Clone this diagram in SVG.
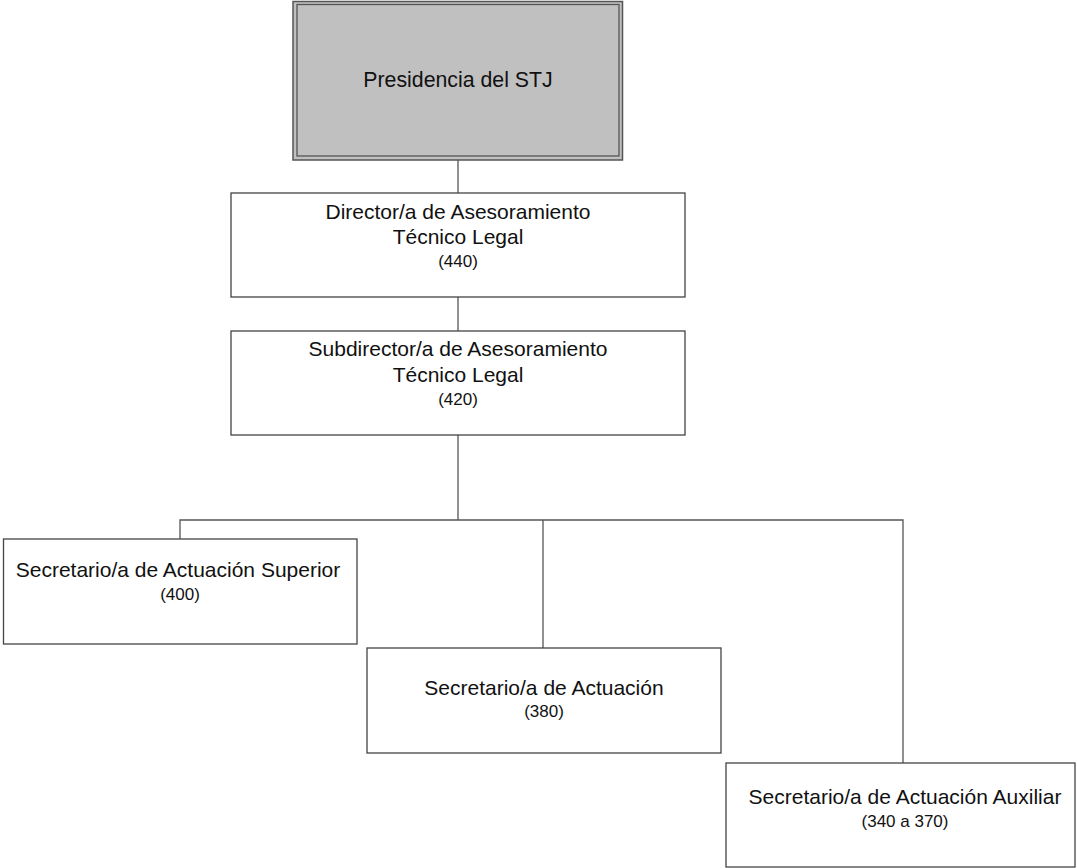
<svg xmlns="http://www.w3.org/2000/svg" width="1077" height="868" viewBox="0 0 1077 868">
<style>
.box{fill:#ffffff;stroke:#444444;stroke-width:1.3}
.t{font-family:"Liberation Sans",Arial,sans-serif;font-size:21px;fill:#111111;text-anchor:middle}
.n{font-family:"Liberation Sans",Arial,sans-serif;font-size:17px;fill:#111111;text-anchor:middle}
.c{stroke:#555555;stroke-width:1.3;fill:none}
</style>
<rect width="1077" height="868" fill="#ffffff"/>
<g id="connectors">
<line class="c" x1="458" y1="160" x2="458" y2="193"/>
<line class="c" x1="458" y1="297" x2="458" y2="331"/>
<line class="c" x1="458" y1="435" x2="458" y2="520"/>
<polyline class="c" points="180,539 180,520 903,520 903,763"/>
<line class="c" x1="543" y1="520" x2="543" y2="648"/>
</g>
<g id="presidencia">
<rect x="293" y="1.5" width="329.5" height="158.5" fill="#c0c0c0" stroke="#555555" stroke-width="1.5"/>
<rect x="297" y="4.5" width="322" height="151.5" fill="none" stroke="#555555" stroke-width="1.3"/>
<text class="t" x="458" y="87" style="font-size:21.3px">Presidencia del STJ</text>
</g>
<g id="director">
<rect class="box" x="231" y="193" width="454" height="104"/>
<text class="t" x="458" y="219">Director/a de Asesoramiento</text>
<text class="t" x="458" y="244">Técnico Legal</text>
<text class="n" x="458" y="267">(440)</text>
</g>
<g id="subdirector">
<rect class="box" x="231" y="331" width="454" height="104"/>
<text class="t" x="458" y="356">Subdirector/a de Asesoramiento</text>
<text class="t" x="458" y="382">Técnico Legal</text>
<text class="n" x="458" y="405">(420)</text>
</g>
<g id="sec-superior">
<rect class="box" x="3.5" y="539" width="353.5" height="105"/>
<text class="t" x="178" y="577">Secretario/a de Actuación Superior</text>
<text class="n" x="180" y="600">(400)</text>
</g>
<g id="sec-actuacion">
<rect class="box" x="367" y="648" width="354" height="105"/>
<text class="t" x="544" y="695">Secretario/a de Actuación</text>
<text class="n" x="544" y="717">(380)</text>
</g>
<g id="sec-auxiliar">
<rect class="box" x="726" y="763" width="349" height="104"/>
<text class="t" x="905" y="804">Secretario/a de Actuación Auxiliar</text>
<text class="n" x="905" y="827">(340 a 370)</text>
</g>
</svg>
